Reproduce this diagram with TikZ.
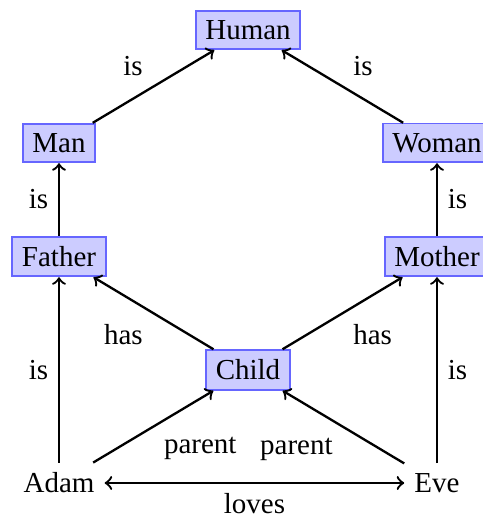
\documentclass[tikz,border=0pt]{standalone}
\usepackage{fontspec}
\setmainfont{Liberation Serif}
\begin{document}
\begin{tikzpicture}[x=0.345pt,y=-0.345pt,
  concept/.style={draw=blue!60, fill=blue!20, semithick},
  person/.style={},
  rel/.style={->, thick},
  mutual/.style={<->, thick}]
\useasboundingbox (0,0) rectangle (482,515);
\node[concept] (human)  at (248,30)  {Human};
\node[concept] (man)    at (59,143)  {Man};
\node[concept] (woman)  at (437,143) {Woman};
\node[concept] (father) at (59,256.5) {Father};
\node[concept] (mother) at (437,256.5) {Mother};
\node[concept] (child)  at (248,370) {Child};
\node[person]  (adam)   at (59,483)  {Adam};
\node[person]  (eve)    at (437,483) {Eve};
\draw[rel] (man) -- node[above left] (l1) {is} (human);
\draw[rel] (woman) -- node[above right] (l2) {is} (human);
\draw[rel] (father) -- node[left] (l3) {is} (man);
\draw[rel] (mother) -- node[right] (l4) {is} (woman);
\draw[rel] (child) -- node[below left] (l5) {has} (father);
\draw[rel] (child) -- node[below right] (l6) {has} (mother);
\draw[rel] (adam) -- node[left] (l7) {is} (father);
\draw[rel] (eve) -- node[right] (l8) {is} (mother);
\draw[rel] (adam) -- node[below right] (l9) {parent} (child);
\draw[rel] (eve) -- node[below left] (l10) {parent} (child);
\draw[mutual] (adam) -- node[below] (l11) {loves} (eve);
\end{tikzpicture}
\end{document}
